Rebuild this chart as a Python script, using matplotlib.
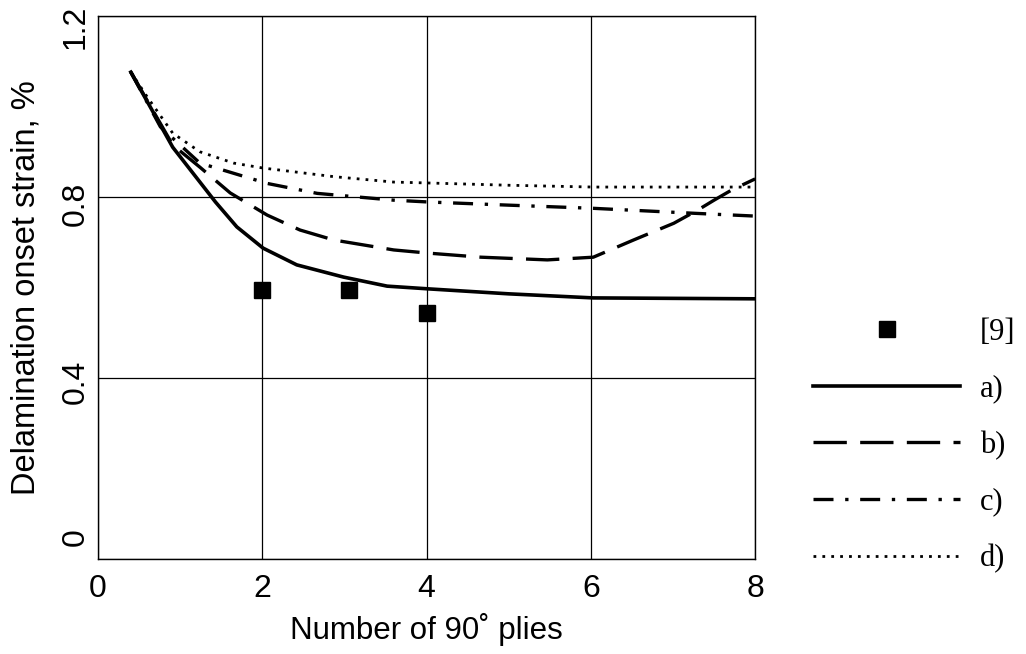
import matplotlib
matplotlib.use("Agg")
import matplotlib.pyplot as plt
import matplotlib.transforms as mtransforms

# ==========================
# DATA
# ==========================

x_a = [0.40, 0.91, 1.43, 1.69, 2.01, 2.42, 2.99, 3.52, 4.02, 5.0, 6.03, 7.0, 8.0]
y_a = [1.076, 0.910, 0.789, 0.734, 0.687, 0.650, 0.623, 0.603, 0.597, 0.586, 0.577, 0.576, 0.575]

x_b = [0.40, 0.91, 1.24, 1.61, 2.06, 2.46, 2.87, 3.60, 4.02, 4.66, 5.47, 6.03, 6.52, 7.01, 7.30, 7.50, 7.71, 8.0]
y_b = [1.076, 0.915, 0.866, 0.809, 0.760, 0.727, 0.705, 0.683, 0.676, 0.667, 0.661, 0.667, 0.705, 0.742, 0.771, 0.793, 0.815, 0.840]

x_c = [0.40, 0.76, 1.24, 2.06, 2.67, 3.60, 4.02, 5.0, 6.03, 7.26, 7.98]
y_c = [1.076, 0.955, 0.875, 0.830, 0.808, 0.793, 0.789, 0.782, 0.775, 0.764, 0.758]

x_d = [0.40, 0.60, 0.91, 1.24, 1.65, 2.01, 2.87, 3.60, 4.02, 5.0, 6.03, 7.0, 8.0]
y_d = [1.076, 1.021, 0.941, 0.900, 0.875, 0.864, 0.845, 0.833, 0.831, 0.826, 0.822, 0.822, 0.822]

x_exp = [2.0, 3.05, 4.0]
y_exp = [0.594, 0.594, 0.544]

x_ticks = [0, 2, 4, 6, 8]
y_ticks = [0, 0.4, 0.8, 1.2]
y_tick_labels = ["0", "0.4", "0.8", "1.2"]

# ==========================
# FIGURE
# ==========================

plt.rcParams["font.family"] = ["Liberation Sans", "DejaVu Sans"]

fig = plt.figure(figsize=(10.26, 6.54), dpi=100)
ax = fig.add_axes([0.0955, 0.1453, 0.6405, 0.8302])

ax.plot(x_exp, y_exp, "s", color="black", markersize=11, label="[9]")
ax.plot(x_a, y_a, color="black", lw=2.6, label="a)")
ax.plot(x_b, y_b, color="black", lw=2.4, linestyle=(0, (10, 4)), label="b)")
ax.plot(x_c, y_c, color="black", lw=2.4, linestyle=(0, (6, 3.5, 1, 3.5)), label="c)")
ax.plot(x_d, y_d, color="black", lw=2.0, linestyle=(0, (1, 2.2)), label="d)")

ax.set_xlim(0, 8)
ax.set_ylim(0, 1.2)
ax.set_xticks(x_ticks)
ax.set_yticks(y_ticks)
ax.set_yticklabels(y_tick_labels, rotation=90, va="center")
ax.tick_params(axis="both", length=0, labelsize=23)
ax.tick_params(axis="x", pad=11)
ax.tick_params(axis="y", pad=5)

# the scanned tick labels sit a little off their grid lines
label_shift_pt = [16, -3, -5, -8]
for lab, dy in zip(ax.get_yticklabels(), label_shift_pt):
    lab.set_transform(lab.get_transform()
                      + mtransforms.ScaledTranslation(0, dy / 72, fig.dpi_scale_trans))

ax.grid(True, color="black", lw=0.9)
for sp in ax.spines.values():
    sp.set_linewidth(1.0)

ax.set_xlabel("Number of 90\u02da plies", fontsize=22.5, labelpad=6)
ax.set_ylabel("Delamination onset strain, %", fontsize=23.5)
ax.yaxis.set_label_coords(-0.086, 0.5)

fig.legend(
    loc="upper left",
    bbox_to_anchor=(0.766, 0.556),
    frameon=False,
    prop={"family": "Liberation Serif", "size": 22},
    handlelength=4.8,
    handletextpad=0.65,
    labelspacing=0.9,
)

fig.savefig("out.png", dpi=100)
